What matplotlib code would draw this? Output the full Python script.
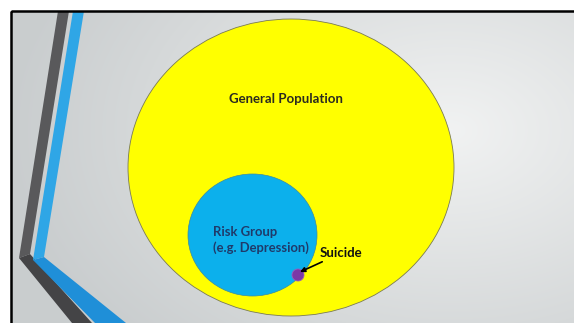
import numpy as np
import matplotlib.pyplot as plt
from matplotlib.patches import Ellipse, Polygon, Rectangle

# labels for the nested groups
population_label = 'General Population'
risk_label = 'Risk Group\n(e.g. Depression)'
outcome_label = 'Suicide'

W, H = 574, 323

fig = plt.figure(figsize=(W / 100, H / 100), dpi=100)
ax = fig.add_axes([0, 0, 1, 1])
ax.set_xlim(0, W)
ax.set_ylim(H, 0)
ax.axis('off')
fig.patch.set_facecolor('white')

# slide background: soft radial grey gradient
yy, xx = np.mgrid[11:H:1.0, 11:W:1.0]
r = np.sqrt(((xx - 450) / 440) ** 2 + ((yy - 130) / 300) ** 2)
r = np.clip(r, 0, 1)
light = np.array([0.945, 0.95, 0.95])
dark = np.array([0.79, 0.805, 0.81])
bg = light[None, None, :] * (1 - r[..., None]) + dark[None, None, :] * r[..., None]
ax.imshow(bg, extent=[11, W, H, 11], aspect='auto', zorder=0, interpolation='bilinear')

# slide frame (runs off the right and bottom edges)
ax.add_patch(Rectangle((11, 11), 600, 340, fill=False, edgecolor='black', lw=1.8, zorder=5))

# decorative stripes on the left
ax.add_patch(Polygon([(58, 11), (69, 11), (30, 254), (19, 258)],
                     closed=True, facecolor='#59595b', edgecolor='none', zorder=1))
ax.add_patch(Polygon([(19, 258), (30, 254), (92, 323), (72, 323)],
                     closed=True, facecolor='#444446', edgecolor='none', zorder=1))
ax.add_patch(Polygon([(73, 11), (84, 11), (44, 257), (33, 260)],
                     closed=True, facecolor='#2fa6e6', edgecolor='none', zorder=1))
ax.add_patch(Polygon([(33, 260), (44, 257), (126, 323), (95, 323)],
                     closed=True, facecolor='#1f8fd8', edgecolor='none', zorder=1))

# nested groups
ax.add_patch(Ellipse((291, 167.5), 326, 297, facecolor='#ffff00',
                     edgecolor='#7a7a55', lw=0.6, zorder=2))
ax.add_patch(Ellipse((252.5, 235), 129, 122, facecolor='#0cb0ec',
                     edgecolor='#3c8aa0', lw=0.5, zorder=3))
ax.add_patch(Ellipse((298, 275), 12, 12, facecolor='#7b38a6',
                     edgecolor='#9a5cc0', lw=0.6, zorder=4))

font = ['Lato', 'DejaVu Sans']
ax.text(286, 99, population_label, ha='center', va='center', fontsize=9.5,
        fontweight='bold', family=font, color='#2b2b20', zorder=6)
ax.text(213, 240, risk_label, ha='left', va='center', fontsize=9.4,
        fontweight='bold', family=font, color='#1f3a6a', linespacing=1.4, zorder=6)
ax.annotate(outcome_label, xy=(300, 272), xytext=(320, 253),
            ha='left', va='center', fontsize=9.5, fontweight='bold', family=font,
            color='#111111', zorder=6,
            arrowprops=dict(arrowstyle='-|>', color='black', lw=1.2,
                            mutation_scale=7, shrinkA=0, shrinkB=0))

fig.savefig('out.png', dpi=100)
